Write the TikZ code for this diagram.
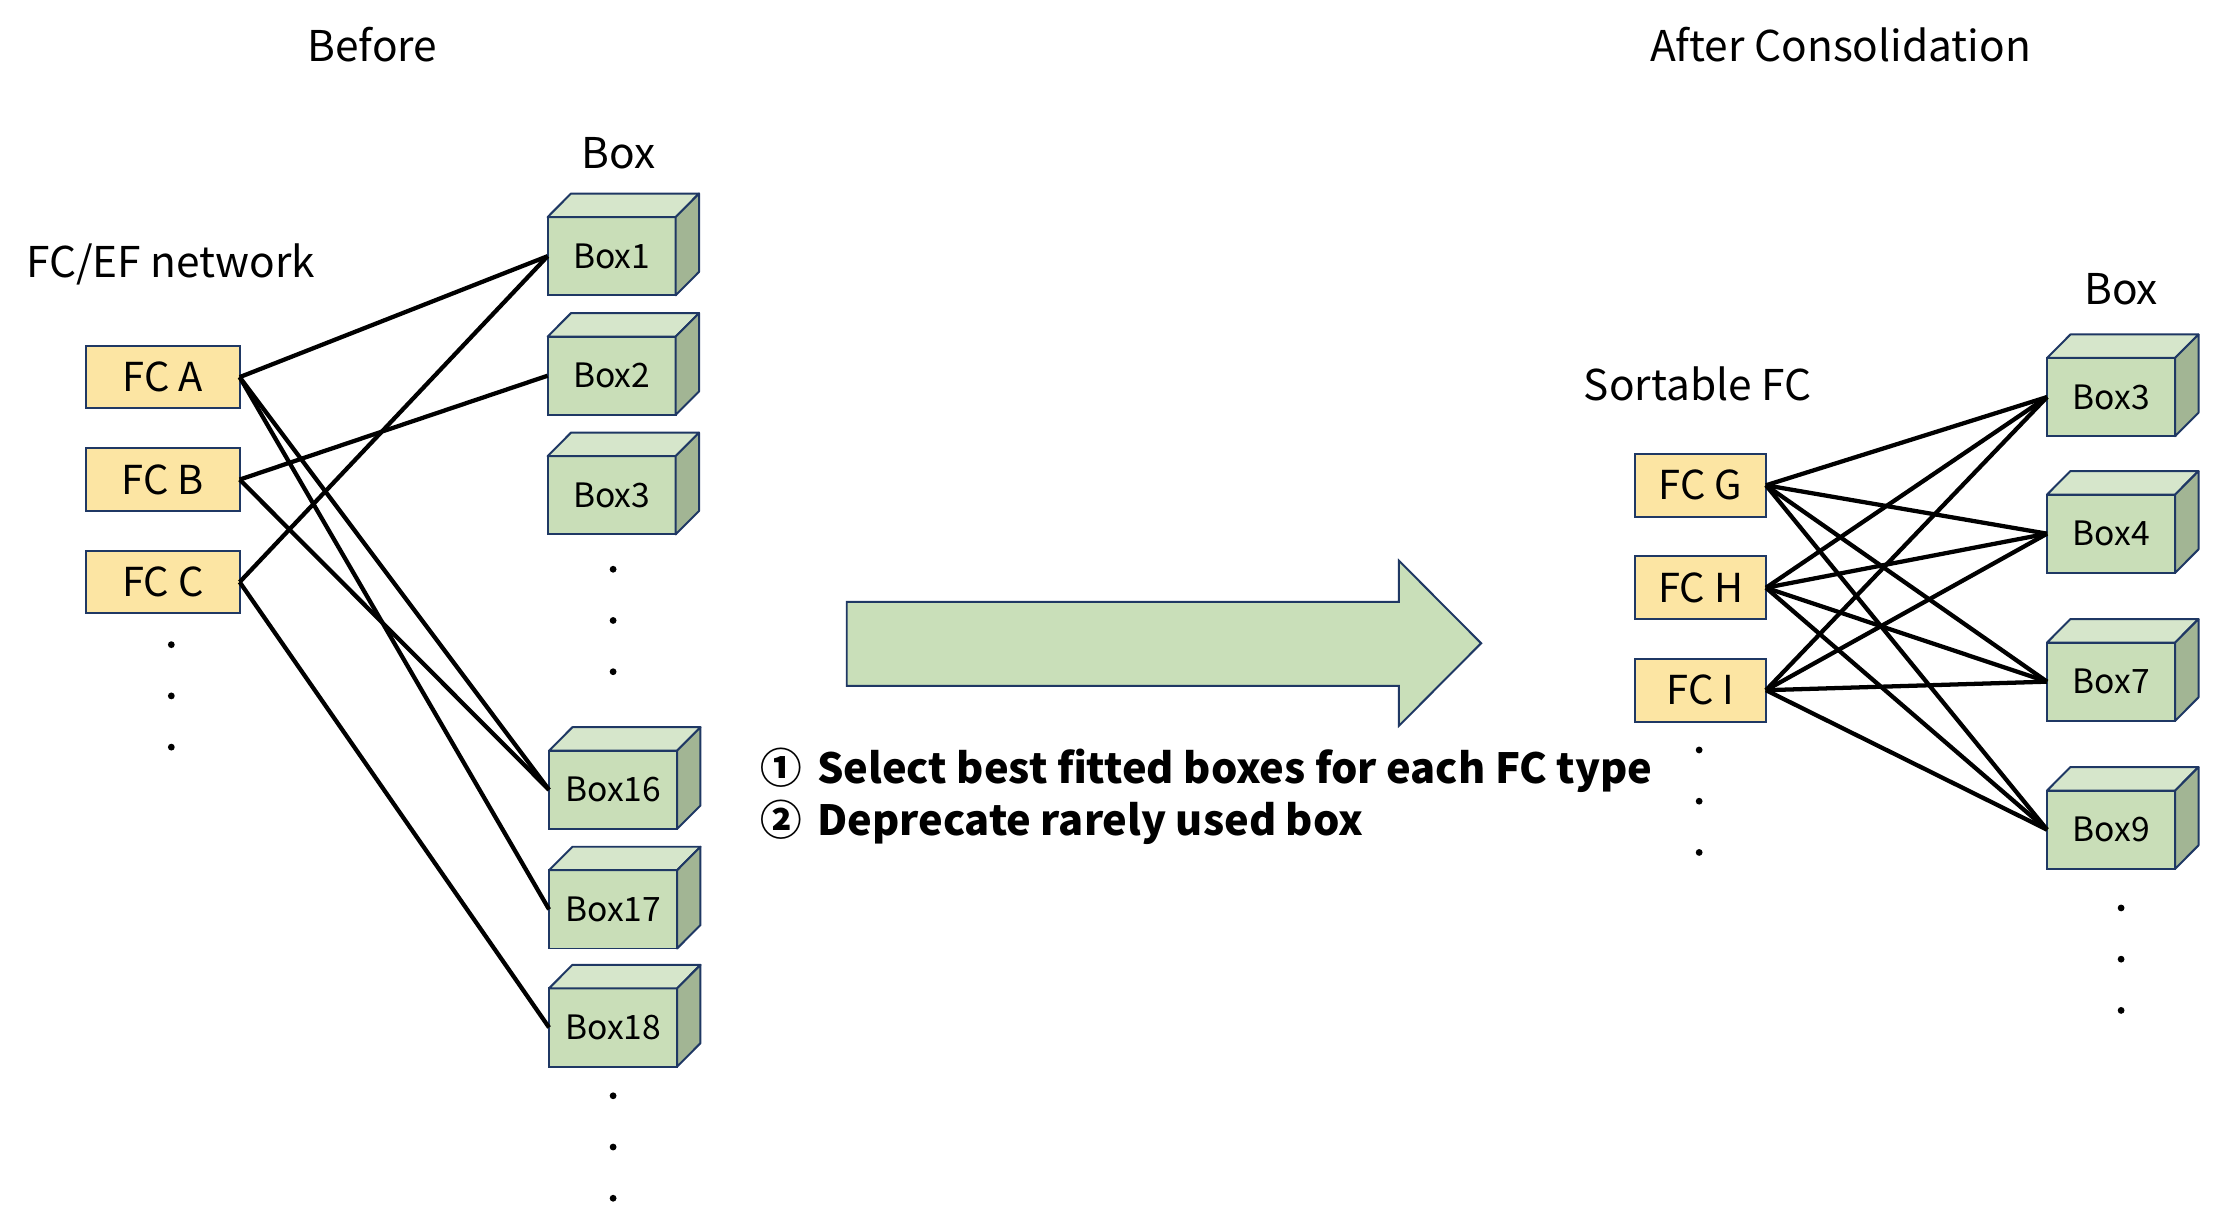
\documentclass[tikz,border=0pt]{standalone}
\usepackage{fontspec}
\setmainfont{Noto Sans CJK JP}
\definecolor{navy}{HTML}{1F3864}
\definecolor{fcfill}{HTML}{FCE5A3}
\definecolor{cfront}{HTML}{C9DEB8}
\definecolor{ctop}{HTML}{D6E6CB}
\definecolor{cside}{HTML}{A2B594}
\definecolor{arrowfill}{HTML}{C9DFB9}
\tikzset{
  fcbox/.style={draw=navy, fill=fcfill, line width=0.7pt, minimum height=22pt, inner sep=0pt, outer sep=0pt, font=\fontsize{14}{16}\selectfont},
  cubefront/.style={draw=navy, fill=cfront, line width=0.7pt, minimum width=45pt, minimum height=27.5pt, inner sep=0pt, outer sep=0pt, font=\fontsize{11.8}{14}\selectfont},
  cubeface/.style={draw=navy, line width=0.7pt, line join=round},
  link/.style={line width=1.5pt, black},
  lbl/.style={inner sep=0pt, font=\fontsize{14.9}{17}\selectfont},
  boldlbl/.style={inner sep=0pt, anchor=west, font=\bfseries\fontsize{14.6}{17}\selectfont},
}
\newcommand\cubebox[4]{%
  \node[cubefront] (#1) at (#2,#3) {#4};
  \filldraw[cubeface, fill=ctop] (#1.north west) -- ([shift={(16.5,-16.5)}]#1.north west) -- ([shift={(16.5,-16.5)}]#1.north east) -- (#1.north east) -- cycle;
  \filldraw[cubeface, fill=cside] (#1.north east) -- ([shift={(16.5,-16.5)}]#1.north east) -- ([shift={(16.5,-16.5)}]#1.south east) -- (#1.south east) -- cycle;
}
\newcommand\vdotsat[2]{%
  \fill (#1,#2) circle (2.4);
  \fill (#1,#2+36) circle (2.4);
  \fill (#1,#2+72) circle (2.4);
}
\begin{document}
\begin{tikzpicture}[x=0.5pt,y=-0.5pt]
\useasboundingbox (0,0) rectangle (1560,859);
\begin{scope}[xscale=0.995]
% titles
\node[lbl] (before) at (263,31) {Before};
\node[lbl] (after) at (1300,31) {After Consolidation};
\node[lbl] (boxL) at (437,108) {Box};
\node[lbl, anchor=west] (fcef) at (18,186) {FC/EF network};
\node[lbl] (sortable) at (1199,270) {Sortable FC};
\node[lbl] (boxR) at (1498,203) {Box};

% left FC boxes
\node[fcbox, minimum width=54pt] (fca) at (115,265) {FC A};
\node[fcbox, minimum width=54pt] (fcb) at (115,337) {FC B};
\node[fcbox, minimum width=54pt] (fcc) at (115,409) {FC C};
\vdotsat{121}{453}

% left cubes
\cubebox{b1}{432}{180}{Box1}
\cubebox{b2}{432}{264}{Box2}
\cubebox{b3}{432}{348}{Box3}
\vdotsat{433}{400}
\cubebox{b16}{433}{555}{Box16}
\cubebox{b17}{433}{639}{Box17}
\cubebox{b18}{433}{722}{Box18}
\vdotsat{433}{770}

% left links
\draw[link] (fca.east) -- (b1.west);
\draw[link] (fca.east) -- (b16.west);
\draw[link] (fca.east) -- (b17.west);
\draw[link] (fcb.east) -- (b2.west);
\draw[link] (fcb.east) -- (b16.west);
\draw[link] (fcc.east) -- (b1.west);
\draw[link] (fcc.east) -- (b18.west);

% big arrow
\filldraw[fill=arrowfill, draw=navy, line width=0.7pt, line join=miter]
  (598,423) -- (988,423) -- (988,394) -- (1046,452) -- (988,510) -- (988,482) -- (598,482) -- cycle;

\node[boldlbl] (step1) at (537,541) {①\hspace{0.35em}Select best fitted boxes for each FC type};
\node[boldlbl] (step2) at (537,578) {②\hspace{0.35em}Deprecate rarely used box};

% right FC boxes
\node[fcbox, minimum width=46pt] (fcg) at (1201,341) {FC G};
\node[fcbox, minimum width=46pt] (fch) at (1201,413) {FC H};
\node[fcbox, minimum width=46pt] (fci) at (1201,485) {FC I};
\vdotsat{1200}{527}

% right cubes
\cubebox{r3}{1491}{279}{Box3}
\cubebox{r4}{1491}{375}{Box4}
\cubebox{r7}{1491}{479}{Box7}
\cubebox{r9}{1491}{583}{Box9}
\vdotsat{1498}{638}

% right links
\foreach \f in {fcg,fch,fci}{
  \foreach \b in {r3,r4,r7,r9}{
    \draw[link] (\f.east) -- (\b.west);
  }
}
\end{scope}
\end{tikzpicture}
\end{document}
